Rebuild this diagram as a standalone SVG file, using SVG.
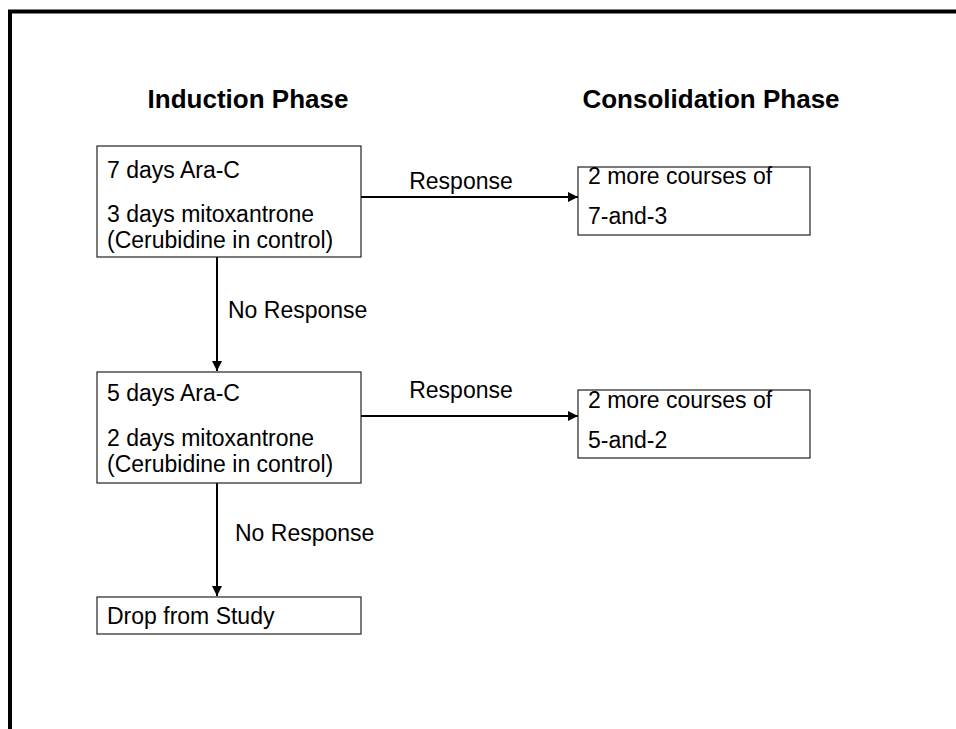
<svg xmlns="http://www.w3.org/2000/svg" width="956" height="729" viewBox="0 0 956 729">
<defs>
<style>
.box{fill:#fff;stroke:#222;stroke-width:1.2}
.t{font-family:"Liberation Sans",Arial,sans-serif;font-size:23px;fill:#000}
.h{font-family:"Liberation Sans",Arial,sans-serif;font-size:26px;font-weight:bold;fill:#000;text-anchor:middle}
.c{stroke:#000;stroke-width:2;fill:none}
</style>
<marker id="ah" viewBox="0 0 10 10" refX="10" refY="5" markerWidth="5" markerHeight="5" orient="auto" markerUnits="strokeWidth">
<path d="M0,0 L10,5 L0,10 z" fill="#000"/>
</marker>
</defs>
<rect width="956" height="729" fill="#fff"/>
<path d="M10,729 V11.5 H956" fill="none" stroke="#000" stroke-width="4"/>
<text class="h" x="248" y="108">Induction Phase</text>
<text class="h" x="711" y="108">Consolidation Phase</text>
<g id="connectors">
<line class="c" x1="361" y1="197" x2="578" y2="197" marker-end="url(#ah)"/>
<text class="t" x="461" y="189" text-anchor="middle">Response</text>
<line class="c" x1="217" y1="257" x2="217" y2="371" marker-end="url(#ah)"/>
<text class="t" x="228" y="318">No Response</text>
<line class="c" x1="361" y1="416" x2="578" y2="416" marker-end="url(#ah)"/>
<text class="t" x="461" y="398" text-anchor="middle">Response</text>
<line class="c" x1="217" y1="483" x2="217" y2="596" marker-end="url(#ah)"/>
<text class="t" x="235" y="541">No Response</text>
</g>
<g id="induction1">
<rect class="box" x="97" y="146" width="264" height="111"/>
<text class="t" x="107" y="178">7 days Ara-C</text>
<text class="t" x="107" y="222">3 days mitoxantrone</text>
<text class="t" x="107" y="248">(Cerubidine in control)</text>
</g>
<g id="consolidation1">
<rect class="box" x="578" y="167" width="232" height="68"/>
<text class="t" x="588" y="184">2 more courses of</text>
<text class="t" x="588" y="224">7-and-3</text>
</g>
<g id="induction2">
<rect class="box" x="97" y="372" width="264" height="111"/>
<text class="t" x="107" y="401">5 days Ara-C</text>
<text class="t" x="107" y="446">2 days mitoxantrone</text>
<text class="t" x="107" y="472">(Cerubidine in control)</text>
</g>
<g id="consolidation2">
<rect class="box" x="578" y="390" width="232" height="68"/>
<text class="t" x="588" y="408">2 more courses of</text>
<text class="t" x="588" y="448">5-and-2</text>
</g>
<g id="drop">
<rect class="box" x="97" y="597" width="264" height="37"/>
<text class="t" x="107" y="624">Drop from Study</text>
</g>
</svg>
